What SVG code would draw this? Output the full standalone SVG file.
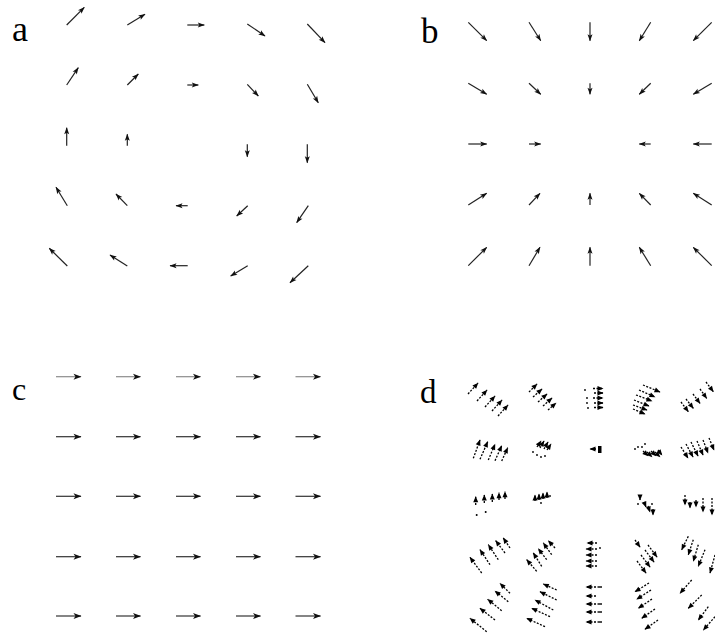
<svg xmlns="http://www.w3.org/2000/svg" width="715" height="636" viewBox="0 0 715 636">
<defs>
<marker id="ha" markerUnits="userSpaceOnUse" markerWidth="7" markerHeight="5" refX="6.5" refY="2.5" orient="auto" overflow="visible">
<path d="M0,0 L7,2.5 L0,5 L1.5,2.5 z" fill="#111"/>
</marker>
<marker id="hc" markerUnits="userSpaceOnUse" markerWidth="8" markerHeight="6" refX="7.5" refY="3" orient="auto" overflow="visible">
<path d="M0,0 L8,3 L0,6 L2,3 z" fill="#111"/>
</marker>
<marker id="hd" markerUnits="userSpaceOnUse" markerWidth="6" markerHeight="5" refX="5.5" refY="2.5" orient="auto" overflow="visible">
<path d="M0,0 L6,2.5 L0,5 z" fill="#000"/>
</marker>
<style>
.lbl{font-family:"Liberation Serif","Times New Roman","DejaVu Serif",serif;fill:#000}
.a line{stroke:#222;stroke-width:1.2;marker-end:url(#ha)}
.c line{stroke:#333;stroke-width:1.2;marker-end:url(#hc)}
.c .g line{stroke:#8c8c8c}
.d line{stroke:#000;stroke-width:1.3;stroke-dasharray:2 1.5;marker-end:url(#hd)}
.d circle,.d rect{fill:#000}
</style>
</defs>
<rect width="715" height="636" fill="#fff"/>

<g id="panel-a">
<text class="lbl" x="12" y="41" font-size="36" font-family="Liberation Serif, serif">a</text>
<g class="a">
<line x1="66.7" y1="25" x2="84.3" y2="7.3"/>
<line x1="127.3" y1="25" x2="145" y2="14.3"/>
<line x1="187.3" y1="25" x2="204.3" y2="25" stroke-width="1.6"/>
<line x1="247.3" y1="24" x2="265" y2="36"/>
<line x1="307.3" y1="24" x2="325" y2="42.7"/>
<line x1="66.7" y1="85" x2="78.3" y2="67.7"/>
<line x1="127.3" y1="85" x2="138.3" y2="74"/>
<line x1="187.3" y1="85" x2="198.3" y2="85"/>
<line x1="247.3" y1="84.3" x2="258.3" y2="96"/>
<line x1="307.3" y1="84.3" x2="318.3" y2="102.7"/>
<line x1="66.7" y1="145.7" x2="66.7" y2="127.7" stroke-width="1.6"/>
<line x1="127.3" y1="145.7" x2="127.3" y2="134.3"/>
<line x1="247.3" y1="144.3" x2="247.3" y2="156.7"/>
<line x1="307.3" y1="144.3" x2="307.3" y2="162.7" stroke-width="1.6"/>
<line x1="67.3" y1="205.7" x2="56" y2="187.3"/>
<line x1="127.3" y1="205.7" x2="116" y2="194"/>
<line x1="187.7" y1="205.7" x2="176" y2="205.7"/>
<line x1="247.7" y1="205.7" x2="236.7" y2="216"/>
<line x1="308.3" y1="205.7" x2="296.7" y2="222.7"/>
<line x1="67.3" y1="266" x2="49.3" y2="248.3"/>
<line x1="127.3" y1="266" x2="110" y2="255" stroke-width="1.5"/>
<line x1="187.7" y1="265.7" x2="170" y2="265.7" stroke-width="1.8"/>
<line x1="247.7" y1="265.7" x2="230.7" y2="276"/>
<line x1="308.3" y1="265.7" x2="290" y2="282.7"/>
</g>
</g>

<g id="panel-b">
<text class="lbl" x="421" y="43" font-size="35" font-family="Liberation Serif, serif">b</text>
<g class="a">
<line x1="468.3" y1="22.3" x2="486.7" y2="40.7"/>
<line x1="529" y1="22.3" x2="540.7" y2="40.7"/>
<line x1="590" y1="22.3" x2="590" y2="40.7"/>
<line x1="650.7" y1="22.3" x2="639.3" y2="40.7"/>
<line x1="711.7" y1="22.3" x2="693.3" y2="40.7"/>
<line x1="468.3" y1="83.3" x2="486.7" y2="94.3"/>
<line x1="529" y1="83.3" x2="540.7" y2="94.3"/>
<line x1="590" y1="83.3" x2="590" y2="94.3"/>
<line x1="650.7" y1="83.3" x2="639.3" y2="94.3"/>
<line x1="711.7" y1="83.3" x2="693.3" y2="94.3"/>
<line x1="468.3" y1="144" x2="486.7" y2="144"/>
<line x1="529" y1="144" x2="540.7" y2="144"/>
<line x1="650.7" y1="144" x2="639.3" y2="144"/>
<line x1="711.7" y1="144" x2="693.3" y2="144"/>
<line x1="468.3" y1="205" x2="486.7" y2="193.3"/>
<line x1="529" y1="205" x2="540" y2="193.3"/>
<line x1="590" y1="205" x2="590" y2="193.3"/>
<line x1="650.7" y1="205" x2="639.3" y2="193.3"/>
<line x1="711.7" y1="205" x2="693.3" y2="193.3"/>
<line x1="468.3" y1="265.7" x2="486.7" y2="247.3"/>
<line x1="529" y1="265.7" x2="540" y2="247.3"/>
<line x1="590" y1="265.7" x2="590" y2="247.3"/>
<line x1="650.7" y1="265.7" x2="639.3" y2="247.3"/>
<line x1="711.7" y1="265.7" x2="693.3" y2="247.3"/>
</g>
</g>

<g id="panel-c">
<text class="lbl" x="12" y="400" font-size="32" font-family="Liberation Serif, serif">c</text>
<g class="c">
<g class="g">
<line x1="56" y1="376.7" x2="81" y2="376.7"/>
<line x1="116" y1="376.7" x2="140.5" y2="376.7"/>
<line x1="176" y1="376.7" x2="200.5" y2="376.7"/>
<line x1="236" y1="376.7" x2="260.5" y2="376.7"/>
<line x1="295.5" y1="376.7" x2="320.5" y2="376.7"/>
</g>
<line x1="56" y1="436.7" x2="81" y2="436.7"/>
<line x1="116" y1="436.7" x2="140.5" y2="436.7"/>
<line x1="176" y1="436.7" x2="200.5" y2="436.7"/>
<line x1="236" y1="436.7" x2="260.5" y2="436.7"/>
<line x1="295.5" y1="436.7" x2="320.5" y2="436.7"/>
<line x1="56" y1="496.3" x2="81" y2="496.3"/>
<line x1="116" y1="496.3" x2="140.5" y2="496.3"/>
<line x1="176" y1="496.3" x2="200.5" y2="496.3"/>
<line x1="236" y1="496.3" x2="260.5" y2="496.3"/>
<line x1="295.5" y1="496.3" x2="320.5" y2="496.3"/>
<line x1="56" y1="556.7" x2="81" y2="556.7"/>
<line x1="116" y1="556.7" x2="140.5" y2="556.7"/>
<line x1="176" y1="556.7" x2="200.5" y2="556.7"/>
<line x1="236" y1="556.7" x2="260.5" y2="556.7"/>
<line x1="295.5" y1="556.7" x2="320.5" y2="556.7"/>
<line x1="56" y1="616" x2="81" y2="616"/>
<line x1="116" y1="616" x2="140.5" y2="616"/>
<line x1="176" y1="616" x2="200.5" y2="616"/>
<line x1="236" y1="616" x2="260.5" y2="616"/>
<line x1="295.5" y1="616" x2="320.5" y2="616"/>
</g>
</g>

<g id="panel-d">
<text class="lbl" x="420" y="403" font-size="33" font-family="Liberation Serif, serif">d</text>
<g class="d">
<line x1="468" y1="394" x2="478" y2="383"/>
<line x1="477" y1="401" x2="487" y2="390"/>
<line x1="485" y1="407" x2="495" y2="396"/>
<line x1="492" y1="411" x2="502" y2="400"/>
<line x1="498" y1="416" x2="508" y2="405"/>
<line x1="529" y1="392" x2="537" y2="384"/>
<line x1="533" y1="397" x2="542" y2="389"/>
<line x1="538" y1="402" x2="547" y2="394"/>
<line x1="543" y1="406" x2="552" y2="398"/>
<line x1="548" y1="410" x2="556" y2="403"/>
<line x1="593" y1="388.5" x2="603" y2="388.5"/>
<line x1="594" y1="393" x2="603" y2="393"/>
<line x1="593" y1="398" x2="603" y2="398"/>
<line x1="594" y1="403" x2="603" y2="403"/>
<line x1="594" y1="407.5" x2="603" y2="407.5"/>
<circle cx="585" cy="390" r="0.9"/><circle cx="587" cy="398" r="0.9"/><circle cx="587" cy="403" r="0.9"/><circle cx="588" cy="408" r="0.9"/>
<line x1="643" y1="385" x2="660" y2="392"/>
<line x1="639" y1="390" x2="655" y2="397"/>
<line x1="636" y1="395" x2="652" y2="401"/>
<line x1="634" y1="400" x2="649" y2="406"/>
<line x1="633" y1="405" x2="647" y2="410"/>
<line x1="633" y1="409" x2="645" y2="414"/>
<line x1="681" y1="402" x2="688.3" y2="411.7"/>
<line x1="686" y1="399" x2="693.3" y2="408.3"/>
<line x1="693" y1="394" x2="700" y2="403.3"/>
<line x1="700" y1="389" x2="706.7" y2="398.3"/>
<line x1="706" y1="382" x2="713.3" y2="391.7"/>
<line x1="473.3" y1="458.3" x2="480" y2="440"/>
<line x1="480" y1="459.3" x2="487.7" y2="441.7"/>
<line x1="488.3" y1="460" x2="495" y2="444.3"/>
<line x1="495" y1="460.7" x2="501.7" y2="445.7"/>
<line x1="501.7" y1="461" x2="507.7" y2="447.7"/>
<line x1="537" y1="447" x2="541" y2="441"/>
<line x1="540" y1="448" x2="544" y2="441"/>
<line x1="544" y1="449" x2="548" y2="442"/>
<line x1="547" y1="450" x2="551" y2="444"/>
<circle cx="533" cy="452" r="0.9"/><circle cx="537" cy="455" r="0.9"/><circle cx="541" cy="457" r="0.9"/><circle cx="545" cy="456" r="0.9"/>
<line x1="596" y1="449" x2="590" y2="449"/>
<rect x="598" y="446" width="3.5" height="7"/>
<circle cx="635" cy="449" r="0.9"/><circle cx="638" cy="447" r="0.9"/><circle cx="642" cy="447" r="0.9"/><circle cx="645" cy="444" r="0.9"/>
<line x1="643" y1="451" x2="648" y2="456"/>
<line x1="647" y1="452" x2="652" y2="457"/>
<line x1="651" y1="451" x2="656" y2="456"/>
<line x1="655" y1="452" x2="660" y2="457"/>
<line x1="658" y1="450" x2="662" y2="455"/>
<line x1="681" y1="447" x2="688" y2="458"/>
<line x1="686" y1="444" x2="693" y2="457"/>
<line x1="691" y1="442" x2="698" y2="456"/>
<line x1="697" y1="441" x2="703" y2="455"/>
<line x1="703" y1="440" x2="708" y2="453"/>
<line x1="709" y1="438" x2="714" y2="450"/>
<line x1="475.7" y1="505" x2="475.7" y2="496.7"/>
<line x1="484.3" y1="503" x2="484.3" y2="495"/>
<line x1="492.3" y1="502" x2="492.3" y2="494"/>
<line x1="499" y1="500" x2="499" y2="492.7"/>
<line x1="505" y1="499" x2="505" y2="491.7"/>
<circle cx="476.7" cy="515" r="1"/><circle cx="485.7" cy="512" r="1"/>
<line x1="535" y1="501" x2="535" y2="495"/>
<line x1="539" y1="500" x2="539" y2="494"/>
<line x1="543" y1="499" x2="543" y2="493"/>
<line x1="547" y1="498" x2="547" y2="492"/>
<circle cx="550" cy="496" r="0.9"/><circle cx="541" cy="503" r="0.9"/>
<line x1="640" y1="495" x2="640" y2="500"/>
<line x1="644" y1="502" x2="646" y2="507"/>
<line x1="648" y1="506" x2="650" y2="512"/>
<line x1="653" y1="509" x2="653" y2="515"/>
<circle cx="652" cy="504" r="0.9"/><circle cx="638" cy="504" r="0.9"/>
<line x1="685" y1="495" x2="685" y2="505"/>
<line x1="690" y1="502" x2="690" y2="508"/>
<line x1="696" y1="500" x2="696" y2="507"/>
<line x1="703" y1="498" x2="703" y2="512"/>
<line x1="712" y1="498" x2="712" y2="515"/>
<line x1="481.7" y1="573" x2="470" y2="557.3"/>
<line x1="490" y1="564.7" x2="480" y2="549.7"/>
<line x1="498.3" y1="559.7" x2="488.3" y2="544.7"/>
<line x1="505" y1="553" x2="495.7" y2="540.7"/>
<line x1="510" y1="548" x2="503.3" y2="538"/>
<line x1="536.7" y1="571.3" x2="526.7" y2="559.7"/>
<line x1="541.7" y1="566.3" x2="533.3" y2="553"/>
<line x1="546.7" y1="559.7" x2="538.3" y2="548.7"/>
<line x1="551.7" y1="554.7" x2="543.3" y2="543"/>
<line x1="555" y1="548" x2="548.3" y2="540.7"/>
<line x1="597" y1="543" x2="587" y2="543"/>
<line x1="597" y1="549" x2="586" y2="549"/>
<line x1="597" y1="555" x2="586" y2="555"/>
<line x1="597" y1="561" x2="586" y2="561"/>
<line x1="597" y1="566" x2="586" y2="566"/>
<circle cx="600" cy="548" r="0.9"/>
<line x1="637" y1="561" x2="646" y2="573"/>
<line x1="641" y1="555" x2="650" y2="567"/>
<line x1="645" y1="550" x2="654" y2="562"/>
<line x1="648" y1="545" x2="657" y2="557"/>
<line x1="635" y1="540" x2="640" y2="547"/>
<line x1="688.3" y1="536.3" x2="681.7" y2="549.7"/>
<line x1="693.3" y1="539.7" x2="688.3" y2="554.7"/>
<line x1="698.3" y1="544.7" x2="693.3" y2="561.3"/>
<line x1="705" y1="549.7" x2="698.3" y2="566.3"/>
<line x1="715" y1="555" x2="710" y2="573"/>
<line x1="486.7" y1="631.7" x2="470" y2="618.3"/>
<line x1="495" y1="620" x2="480" y2="608.3"/>
<line x1="501.7" y1="610.7" x2="487.7" y2="599.3"/>
<line x1="508.3" y1="601.7" x2="495" y2="591"/>
<line x1="510" y1="593.3" x2="500" y2="583.3"/>
<line x1="545" y1="626.7" x2="526.7" y2="618.3"/>
<line x1="550" y1="616.7" x2="531.7" y2="608.3"/>
<line x1="553.3" y1="610" x2="535" y2="600"/>
<line x1="556.7" y1="600" x2="540" y2="591.7"/>
<line x1="556.7" y1="590" x2="543.3" y2="584"/>
<line x1="596" y1="587" x2="586" y2="587"/>
<line x1="596" y1="596" x2="586" y2="596"/>
<line x1="596" y1="604" x2="586" y2="604"/>
<line x1="596" y1="612" x2="586" y2="612"/>
<line x1="596" y1="622" x2="586" y2="622"/>
<rect x="597.5" y="586.3" width="4.5" height="1.4"/><rect x="597.5" y="603.3" width="4.5" height="1.4"/><rect x="597.5" y="611.3" width="4.5" height="1.4"/><rect x="597.5" y="621.3" width="4.5" height="1.4"/>
<line x1="649" y1="583" x2="635" y2="591.7"/>
<line x1="651" y1="590" x2="636.7" y2="599.3"/>
<line x1="652" y1="599" x2="638.3" y2="608.3"/>
<line x1="655" y1="609" x2="641.7" y2="618.3"/>
<line x1="658" y1="620" x2="645" y2="629.3"/>
<line x1="691.7" y1="580" x2="680" y2="593.3"/>
<line x1="701.7" y1="595" x2="688.3" y2="608.3"/>
<line x1="708.3" y1="606.7" x2="698.3" y2="620"/>
<line x1="715" y1="616.7" x2="703.3" y2="630"/>
</g>
</g>
</svg>
